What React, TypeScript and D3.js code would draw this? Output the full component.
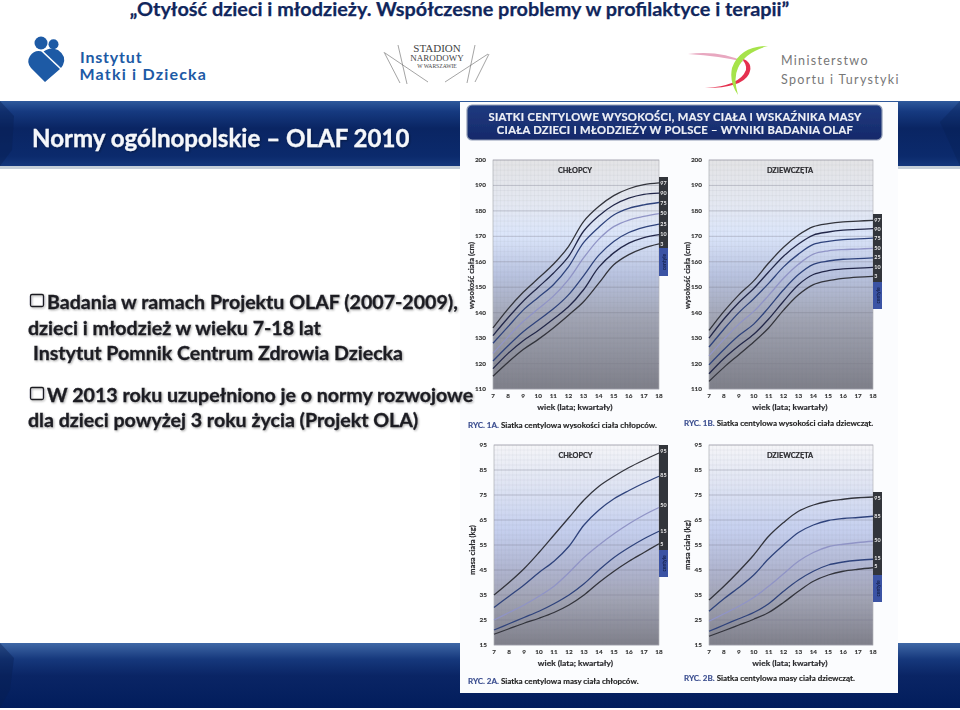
import * as d3 from "d3";
import React from "react";

const FONT = "Lato, Carlito, 'Open Sans', sans-serif";

const ages = [7, 8, 9, 10, 11, 12, 13, 14, 15, 16, 17, 18];
const heightTicks = [110, 120, 130, 140, 150, 160, 170, 180, 190, 200];
const massTicks = [15, 25, 35, 45, 55, 65, 75, 85, 95];

const heightCentiles = ["97", "90", "75", "50", "25", "10", "3"];
const massCentiles = ["95", "85", "50", "15", "5"];

const heightColors = ["#33343c", "#23284a", "#2f437c", "#9094c6", "#2f437c", "#23284a", "#33343c"];
const massColors = ["#33343c", "#2f437c", "#9094c6", "#2f437c", "#33343c"];

const boysHeight = [
  [134, 141.5, 148, 153.5, 159, 166, 175.8, 181.7, 186, 188.7, 190.3, 191],
  [131, 138, 144.5, 150, 155.5, 162, 172, 178, 182.3, 185, 186.5, 187],
  [128, 134.5, 141, 146, 151, 158, 167.5, 173.5, 178.4, 181, 182.4, 183.3],
  [124, 130.5, 136.5, 141.5, 146.5, 153, 161.5, 168.8, 173.8, 176.4, 177.8, 178.9],
  [121, 127, 132.5, 137, 141.5, 147, 154.5, 162.5, 168, 171.5, 173.5, 174.8],
  [118, 124, 129, 133, 137.5, 142.3, 149, 157.8, 163.5, 167.3, 169.5, 170.7],
  [115, 120.5, 125.5, 129.5, 134, 139, 144.3, 151.5, 158.8, 162.8, 165.4, 167],
];
const girlsHeight = [
  [133, 140.5, 147, 152.5, 159.5, 165.7, 170.5, 173.8, 175, 175.7, 176, 176.3],
  [130, 137.5, 144, 149.5, 156, 162.2, 167, 170.5, 171.7, 172.4, 172.7, 173],
  [126.5, 133.5, 140, 145.5, 151.5, 158, 163, 166.8, 168, 168.7, 169, 169.3],
  [123, 129.5, 135.5, 140.5, 146.8, 153.5, 159, 163, 164.3, 164.8, 165, 165.3],
  [119.5, 125.5, 131, 135.5, 142, 149, 155, 159, 160.3, 161, 161.2, 161.5],
  [116, 122, 127, 131.5, 137.5, 144.5, 151, 155, 156.5, 157.2, 157.5, 157.8],
  [113, 118.5, 123.5, 128.5, 134, 141, 147, 151, 152.6, 153.5, 154, 154.3],
];
const boysMass = [
  [35, 40, 45.5, 52, 59, 66, 73, 78.5, 82.5, 86, 89, 91.8],
  [30, 34.5, 39, 44, 48.5, 54.5, 63, 69, 73.5, 76.8, 79.8, 82.5],
  [25, 28, 31, 34.5, 38.5, 44, 50, 55, 59.5, 63.5, 67, 70],
  [21, 23.5, 26, 28.5, 31.5, 35, 39.5, 45, 50, 54, 57.5, 60.5],
  [19.3, 21.5, 23.7, 25.7, 28, 31, 35, 40, 44.5, 48.5, 52, 55.5],
];
const girlsMass = [
  [33, 38.5, 44.5, 51, 58.5, 64, 68.5, 71, 72.5, 73.3, 73.9, 74.2],
  [28.5, 33.5, 38, 43, 49.5, 55, 60, 63, 64.8, 65.6, 66, 66.5],
  [24.5, 27.5, 30.5, 34, 38.5, 43.5, 48.5, 52, 54.3, 55.3, 56, 56.5],
  [20.5, 23, 25.5, 28, 31.5, 36.5, 41, 44.5, 47, 48.2, 48.9, 49.3],
  [18.5, 20.7, 23, 25.3, 28, 32, 36.5, 40.5, 43, 44.5, 45.3, 45.9],
];

const bulletLines = [
  { text: "Badania w ramach Projektu OLAF (2007-2009),", y: 309, x: 47, box: true },
  { text: "dzieci i młodzież w wieku 7-18 lat", y: 335, x: 28, box: false },
  { text: "Instytut Pomnik Centrum Zdrowia Dziecka", y: 360, x: 33, box: false },
  { text: "W 2013 roku uzupełniono je o normy rozwojowe", y: 402, x: 47, box: true },
  { text: "dla dzieci powyżej 3 roku życia (Projekt OLA)", y: 427, x: 28, box: false },
];

type PanelProps = {
  id: string;
  left: number;
  right: number;
  top: number;
  bottom: number;
  yTicks: number[];
  series: number[][];
  centiles: string[];
  colors: string[];
  sex: string;
  yLabel: string;
  yLabelDy: number;
  caption: [string, string];
  captionX: number;
  captionDy: number;
  strip: [number, number, number];
  labelValues: number[];
};

const Panel = ({
  id, left, right, top, bottom, yTicks, series, centiles, colors, sex,
  yLabel, yLabelDy, caption, captionX, captionDy, strip, labelValues,
}: PanelProps) => {
  const x = d3.scaleLinear().domain([7, 18]).range([left, right]);
  const y = d3
    .scaleLinear()
    .domain([yTicks[0], yTicks[yTicks.length - 1]])
    .range([bottom, top]);

  const line = d3
    .line<number>()
    .x((_, i) => x(ages[i]))
    .y((d) => y(d))
    .curve(d3.curveCatmullRom.alpha(0.5));

  const step = yTicks[1] - yTicks[0];
  const minorY = d3.range(yTicks[0], yTicks[yTicks.length - 1], step / 5);
  const minorX = d3.range(7, 18, 0.25);

  return (
    <g>
      <rect x={left} y={top} width={right - left} height={bottom - top} fill={`url(#${id})`} stroke="#b5b5ba" strokeWidth={0.7} />
      {minorY.map((v) => (
        <line key={v} x1={left} x2={right} y1={y(v)} y2={y(v)} stroke="#7c8090" strokeOpacity={0.14} strokeWidth={0.5} />
      ))}
      {minorX.map((v) => (
        <line key={v} x1={x(v)} x2={x(v)} y1={top} y2={bottom} stroke="#7c8090" strokeOpacity={0.12} strokeWidth={0.5} />
      ))}
      {yTicks.map((t) => (
        <g key={t}>
          <line x1={left} x2={right} y1={y(t)} y2={y(t)} stroke="#7d7f8c" strokeOpacity={0.55} strokeWidth={0.6} />
          <text x={left - 7} y={y(t) + 2} textAnchor="end" fontSize={6.4} fontWeight={700} fill="#333" stroke="#333" strokeWidth={0.12}>{t}</text>
        </g>
      ))}
      {ages.map((a) => (
        <text key={a} x={x(a)} y={bottom + 9} textAnchor="middle" fontSize={6.4} fontWeight={700} fill="#333" stroke="#333" strokeWidth={0.12}>{a}</text>
      ))}
      <text x={(left + right) / 2 - 1} y={top + 12.5} textAnchor="middle" fontSize={7.3} fontWeight={700} fill="#2a2a2e" stroke="#2a2a2e" strokeWidth={0.2}>{sex}</text>
      <text
        transform={`translate(${left - 19},${(top + bottom) / 2 + yLabelDy}) rotate(-90)`}
        textAnchor="middle"
        fontSize={7.7}
        fontWeight={700}
        fill="#2a2a2e"
        stroke="#2a2a2e"
        strokeWidth={0.18}
      >
        {yLabel}
      </text>
      <text x={(left + right) / 2 - 1} y={bottom + 20.5} textAnchor="middle" fontSize={8.4} fontWeight={700} fill="#2a2a2e" stroke="#2a2a2e" strokeWidth={0.18}>
        wiek (lata; kwartały)
      </text>
      <text x={captionX} y={bottom + captionDy} fontSize={8} fontWeight={700} fill="#222" stroke="#222" strokeWidth={0.15}>
        <tspan fill="#3a4d8f" stroke="#3a4d8f">{caption[0]} </tspan>
        {caption[1]}
      </text>

      <rect x={right} y={strip[0]} width={9} height={strip[1] - strip[0]} fill="#33353a" />
      <rect x={right} y={strip[1]} width={9} height={strip[2] - strip[1]} fill="#3a53a4" />
      <text
        transform={`translate(${right + 6.5},${(strip[1] + strip[2]) / 2}) rotate(-90)`}
        textAnchor="middle"
        fontSize={5}
        fontWeight={700}
        fill="#16204a"
      >
        centyle
      </text>

      {series.map((s, i) => (
        <path key={centiles[i]} d={line(s) || undefined} fill="none" stroke={colors[i]} strokeWidth={1.3} />
      ))}
      {centiles.map((c, i) => (
        <text key={c} x={right + 1.3} y={y(labelValues[i]) + 2} fontSize={5.4} fontWeight={700} fill="#e8e8ea">{c}</text>
      ))}
    </g>
  );
};

const App = () => {
  return (
    <svg
      width={960}
      height={710}
      viewBox="0 0 960 710"
      style={{ position: "absolute", left: 0, top: 0, background: "#fff" }}
      fontFamily={FONT}
    >
      <defs>
        <linearGradient id="bar" x1="0" x2="0" y1="0" y2="1">
          <stop offset="0" stopColor="#2f5a9c" />
          <stop offset="0.16" stopColor="#163a80" />
          <stop offset="0.42" stopColor="#0a2563" />
          <stop offset="0.85" stopColor="#0b2a6c" />
          <stop offset="1" stopColor="#14377c" />
        </linearGradient>
        <linearGradient id="footer" x1="0" x2="0" y1="0" y2="1">
          <stop offset="0" stopColor="#3f68a6" />
          <stop offset="0.25" stopColor="#16387c" />
          <stop offset="0.5" stopColor="#0a2565" />
          <stop offset="1" stopColor="#021d5c" />
        </linearGradient>
        <linearGradient id="h1" x1="0" x2="0" y1="0" y2="1">
          <stop offset="0" stopColor="#e4e4e6" />
          <stop offset="0.2" stopColor="#e4e8f2" />
          <stop offset="0.33" stopColor="#dbe5fa" />
          <stop offset="0.5" stopColor="#b9c3e0" />
          <stop offset="0.7" stopColor="#a0a3b2" />
          <stop offset="1" stopColor="#7e7f89" />
        </linearGradient>
        <linearGradient id="m1" x1="0" x2="0" y1="0" y2="1">
          <stop offset="0" stopColor="#f5f5f8" />
          <stop offset="0.2" stopColor="#dfe4f3" />
          <stop offset="0.42" stopColor="#c6d0ef" />
          <stop offset="0.62" stopColor="#b0b5d0" />
          <stop offset="0.78" stopColor="#a0a2b2" />
          <stop offset="1" stopColor="#7f7f8a" />
        </linearGradient>
        <linearGradient id="banner" x1="0" x2="0" y1="0" y2="1">
          <stop offset="0" stopColor="#1e3a80" />
          <stop offset="1" stopColor="#16296a" />
        </linearGradient>
        <filter id="soft" x="-2%" y="-2%" width="104%" height="104%">
          <feGaussianBlur stdDeviation="0.3" />
        </filter>
        <filter id="shade" x="-3%" y="-10%" width="106%" height="130%">
          <feDropShadow dx="1" dy="1" stdDeviation="0.8" floodColor="#000" floodOpacity="0.35" />
        </filter>
      </defs>

      {/* header */}
      <text x={459.5} y={16} textAnchor="middle" fontSize={19.85} fontWeight={700} fill="#10265c" stroke="#10265c" strokeWidth={0.25}>
        „Otyłość dzieci i młodzieży. Współczesne problemy w profilaktyce i terapii”
      </text>

      {/* Instytut Matki i Dziecka logo */}
      <g fill="#1d5aa5">
        <circle cx={41} cy={43} r={6.5} />
        <circle cx={53.5} cy={44.3} r={5} />
        <path d="M45 82 L31 68 Q26 62 30 56 Q35 49 43 52 Q50 46 58 50 Q67 56 63 65 Q62 67 60 69 Z" />
        <text x={80} y={62.5} fontSize={16} fontWeight={700} letterSpacing={0.8}>Instytut</text>
        <text x={79.5} y={80} fontSize={16} fontWeight={700} letterSpacing={1.2}>Matki i Dziecka</text>
      </g>
      <path d="M42 51 L61 69" stroke="#fff" strokeWidth={1.6} />

      {/* Stadion Narodowy logo */}
      <g fontFamily="'Liberation Serif', serif" fill="#444" textAnchor="middle">
        <text x={437} y={52} fontSize={11}>STADION</text>
        <text x={437} y={61} fontSize={9}>NARODOWY</text>
        <text x={437} y={68} fontSize={5.6}>W WARSZAWIE</text>
      </g>
      <g fill="none" stroke="#666" strokeWidth={0.6}>
        <path d="M384 52 L400 83 M398 45 L407 84 M385 53 L428 82" />
        <path d="M475 45 L467 83 M445 82 L488 54 M475 82 L489 54" />
      </g>

      {/* Ministerstwo logo */}
      <path d="M688 54 Q720 50 745 62 Q720 56 688 54 Z" fill="#e8a8c0" />
      <path d="M705 88 Q740 86 746 70 Q747 64 741 58 Q754 62 749 74 Q742 88 705 88 Z" fill="#e5304f" />
      <path d="M768 46 Q740 46 732 68 Q729 82 738 95 Q733 78 738 68 Q745 52 768 46 Z" fill="#a6e34a" />
      <text x={781} y={65} fontSize={12.5} letterSpacing={1.3} fill="#777">Ministerstwo</text>
      <text x={781} y={84} fontSize={12.5} letterSpacing={1.3} fill="#777">Sportu i Turystyki</text>

      {/* blue bars */}
      <rect x={0} y={101} width={960} height={65} fill="url(#bar)" />
      <path d="M0 101 L14 116 L12 150 L0 166 Z" fill="#081e50" fillOpacity={0.4} />
      <path d="M960 101 L940 122 L960 166 Z" fill="#081e50" fillOpacity={0.3} />
      <rect x={0} y={166} width={960} height={3} fill="#c5cfd8" />
      <rect x={0} y={643} width={960} height={65} fill="url(#footer)" />
      <path d="M0 643 L14 658 L10 690 L0 708 Z" fill="#081e50" fillOpacity={0.4} />
      <text x={32} y={146.5} fontSize={24.1} fontWeight={700} fill="#f5f7fa" stroke="#f5f7fa" strokeWidth={0.3} filter="url(#shade)">
        Normy ogólnopolskie – OLAF 2010
      </text>

      {/* inset with the centile charts */}
      <rect x={460} y={102} width={438} height={591} fill="#fbfcfe" />
      <g filter="url(#soft)">
        <rect x={467} y={105} width={415} height={35} rx={5} fill="url(#banner)" stroke="#8f9bb5" strokeWidth={1.2} />
        <g fontSize={11.2} fontWeight={700} fill="#eef0f6" stroke="#eef0f6" strokeWidth={0.2} textAnchor="middle" letterSpacing={0.3}>
          <text x={675} y={120.5}>SIATKI CENTYLOWE WYSOKOŚCI, MASY CIAŁA I WSKAŹNIKA MASY</text>
          <text x={675} y={134}>CIAŁA DZIECI I MŁODZIEŻY W POLSCE – WYNIKI BADANIA OLAF</text>
        </g>
        <Panel
          id="h1" left={493} right={659} top={160} bottom={389}
          yTicks={heightTicks} series={boysHeight} centiles={heightCentiles} colors={heightColors}
          sex="CHŁOPCY" yLabel="wysokość ciała (cm)" yLabelDy={1}
          caption={["RYC. 1A.", "Siatka centylowa wysokości ciała chłopców."]}
          captionX={468} captionDy={38.5} strip={[177, 248, 276]}
          labelValues={[191, 187, 183, 179, 175, 171, 167]}
        />
        <Panel
          id="h1" left={709} right={873} top={160} bottom={389}
          yTicks={heightTicks} series={girlsHeight} centiles={heightCentiles} colors={heightColors}
          sex="DZIEWCZĘTA" yLabel="wysokość ciała (cm)" yLabelDy={1}
          caption={["RYC. 1B.", "Siatka centylowa wysokości ciała dziewcząt."]}
          captionX={684} captionDy={36.5} strip={[214, 282, 309]}
          labelValues={[176.3, 173, 169.3, 165.5, 161.8, 158, 154.5]}
        />
        <Panel
          id="m1" left={494} right={659} top={445} bottom={645}
          yTicks={massTicks} series={boysMass} centiles={massCentiles} colors={massColors}
          sex="CHŁOPCY" yLabel="masa ciała (kg)" yLabelDy={5}
          caption={["RYC. 2A.", "Siatka centylowa masy ciała chłopców."]}
          captionX={468} captionDy={38.5} strip={[445, 550, 577]}
          labelValues={[92.5, 83, 71, 60.5, 55.5]}
        />
        <Panel
          id="m1" left={709} right={873} top={445} bottom={645}
          yTicks={massTicks} series={girlsMass} centiles={massCentiles} colors={massColors}
          sex="DZIEWCZĘTA" yLabel="masa ciała (kg)" yLabelDy={0}
          caption={["RYC. 2B.", "Siatka centylowa masy ciała dziewcząt."]}
          captionX={684} captionDy={36} strip={[492, 575, 602]}
          labelValues={[74, 66.5, 57, 50, 46.5]}
        />
      </g>

      {/* body text, it runs over the inset's left edge */}
      <g fontSize={19.6} fontWeight={700} fill="#1c1c22" stroke="#1c1c22" strokeWidth={0.3} filter="url(#shade)">
        {bulletLines.map((l) => (
          <g key={l.text}>
            {l.box && <rect x={30.5} y={l.y - 14.5} width={13} height={12} rx={1.5} fill="none" stroke="#1c1c22" strokeWidth={1.3} />}
            <text x={l.x} y={l.y}>{l.text}</text>
          </g>
        ))}
      </g>
    </svg>
  );
};

export default App;
